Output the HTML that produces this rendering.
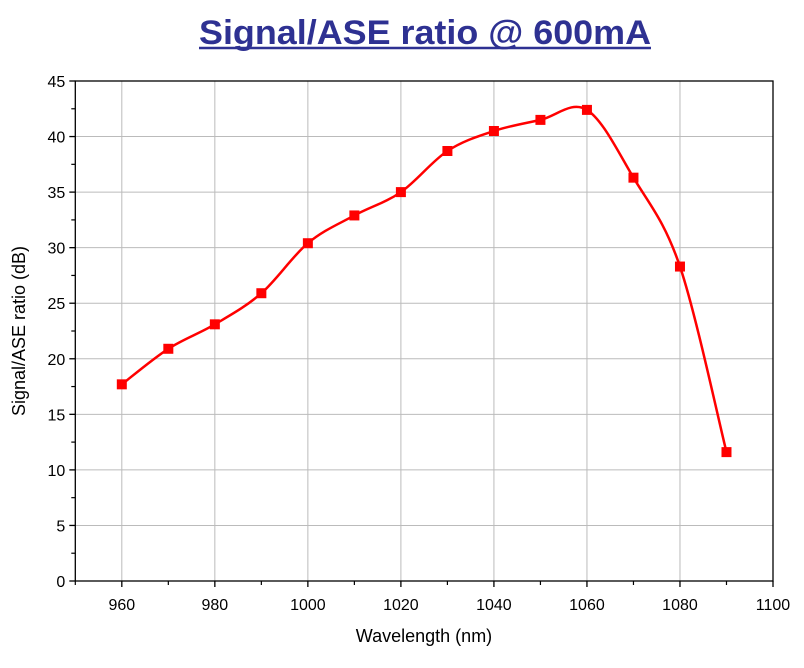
<!DOCTYPE html>
<html><head><meta charset="utf-8"><style>
body{margin:0;background:#fff;width:804px;height:663px;overflow:hidden;font-family:"Liberation Sans",Arial,sans-serif}
</style></head><body>
<svg id="c" width="804" height="663" font-family="Liberation Sans, Arial, sans-serif">
<text x="199" y="44" font-size="34" font-weight="bold" fill="#2e3192" textLength="452" lengthAdjust="spacingAndGlyphs">Signal/ASE ratio @ 600mA</text>
<line x1="199" y1="48" x2="651" y2="48" stroke="#2e3192" stroke-width="2.5"/>
<g id="g"></g>
<text x="424" y="642" text-anchor="middle" font-size="18">Wavelength (nm)</text>
<text transform="translate(25,331) rotate(-90)" text-anchor="middle" font-size="18">Signal/ASE ratio (dB)</text>
</svg>
<script>
const wavelengths=[960,970,980,990,1000,1010,1020,1030,1040,1050,1060,1070,1080,1090];
const ratios=[17.7,20.9,23.1,25.9,30.4,32.9,35.0,38.7,40.5,41.5,42.4,36.3,28.3,11.6];
const xTicks=[960,980,1000,1020,1040,1060,1080,1100];
const yTicks=[0,5,10,15,20,25,30,35,40,45];
const L=75.3,R=773,T=81,B=581,x0=950,x1=1100,y0=0,y1=45;
const X=v=>L+(v-x0)/(x1-x0)*(R-L), Y=v=>B-(v-y0)/(y1-y0)*(B-T);
const g=document.getElementById('g');const NS='http://www.w3.org/2000/svg';
function mk(t,a){const e=document.createElementNS(NS,t);for(const k in a)e.setAttribute(k,a[k]);g.appendChild(e);return e;}
xTicks.forEach(v=>{
 if(v<x1){const l=mk('line',{x1:X(v),x2:X(v),y1:T,y2:B,stroke:'#bbb','stroke-width':1});
 
 }
 mk('line',{x1:X(v),x2:X(v),y1:B,y2:B+6,stroke:'#000','stroke-width':1.3});
 const t=mk('text',{x:X(v),y:B+29,'text-anchor':'middle','font-size':16});t.textContent=v;
 
 
});
for(let v=x0;v<x1;v+=20){mk('line',{x1:X(v),x2:X(v),y1:B,y2:B+4,stroke:'#000','stroke-width':1.2});}
yTicks.forEach(v=>{
 if(v>y0&&v<y1){const l=mk('line',{x1:L,x2:R,y1:Y(v),y2:Y(v),stroke:'#bbb','stroke-width':1});
 
 }
 mk('line',{x1:L-6,x2:L,y1:Y(v),y2:Y(v),stroke:'#000','stroke-width':1.3});
 const t=mk('text',{x:L-10,y:Y(v)+6,'text-anchor':'end','font-size':16});t.textContent=v;
 
 
 if(v<y1)mk('line',{x1:L-4,x2:L,y1:Y(v+2.5),y2:Y(v+2.5),stroke:'#000','stroke-width':1.2});
});
const fr=mk('rect',{x:L,y:T,width:R-L,height:B-T,fill:'none',stroke:'#000','stroke-width':1.3});


const P=wavelengths.map((w,i)=>[X(w),Y(ratios[i])]);
let d='M'+P[0][0]+','+P[0][1];
for(let i=0;i<P.length-1;i++){const p0=P[i-1]||P[i],p1=P[i],p2=P[i+1],p3=P[i+2]||P[i+1];
 d+=` C${p1[0]+(p2[0]-p0[0])/6},${p1[1]+(p2[1]-p0[1])/6} ${p2[0]-(p3[0]-p1[0])/6},${p2[1]-(p3[1]-p1[1])/6} ${p2[0]},${p2[1]}`;}
const c=mk('path',{d:d,fill:'none',stroke:'#f00','stroke-width':2.5});


P.forEach(p=>{const m=mk('rect',{x:p[0]-5,y:p[1]-5,width:10,height:10,fill:'#f00'});
 
 });
</script>
</body></html>
